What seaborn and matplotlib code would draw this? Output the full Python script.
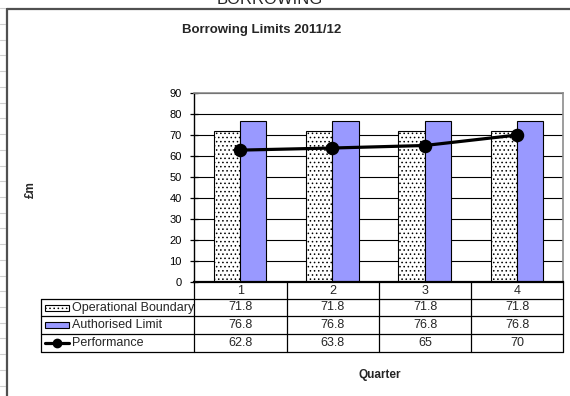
import matplotlib
matplotlib.use("Agg")
import matplotlib.pyplot as plt
from matplotlib.lines import Line2D
from matplotlib.patches import Rectangle
import pandas as pd
import seaborn as sns

# Borrowing limits by quarter (£m)
quarters = ["1", "2", "3", "4"]
operational_boundary = [71.8, 71.8, 71.8, 71.8]
authorised_limit = [76.8, 76.8, 76.8, 76.8]
performance = [62.8, 63.8, 65, 70]
performance_labels = ["62.8", "63.8", "65", "70"]
series_names = ["Operational Boundary", "Authorised Limit", "Performance"]
y_ticks = [0, 10, 20, 30, 40, 50, 60, 70, 80, 90]

sns.set_theme(style="white")
plt.rcParams["font.family"] = ["Liberation Sans", "DejaVu Sans"]
plt.rcParams["hatch.linewidth"] = 0.6
plt.rcParams["hatch.color"] = "black"

W, H = 570, 396
fig = plt.figure(figsize=(W / 100, H / 100), dpi=100)
fig.patch.set_facecolor("white")


def fx(x):
    return x / W


def fy(y):
    return 1 - y / H


def fline(x0, y0, x1, y1, **kw):
    fig.add_artist(Line2D([fx(x0), fx(x1)], [fy(y0), fy(y1)],
                          transform=fig.transFigure, **kw))


# plot area
left, right, top, bottom = 194, 563.3, 93, 282
ax = fig.add_axes([fx(left), fy(bottom), fx(right - left), (bottom - top) / H])

bars = pd.DataFrame({
    "Quarter": quarters * 2,
    "value": operational_boundary + authorised_limit,
    "series": [series_names[0]] * 4 + [series_names[1]] * 4,
})
line = pd.DataFrame({"Quarter": quarters, "value": performance})

sns.barplot(data=bars, x="Quarter", y="value", hue="series",
            hue_order=series_names[:2], palette=["white", "#9999FF"],
            saturation=1, width=0.57, edgecolor="black", linewidth=0.8,
            legend=False, ax=ax, zorder=2)
for patch in ax.containers[0]:
    patch.set_hatch("....")

sns.pointplot(data=line, x="Quarter", y="value", color="black",
              markers="o", markersize=8, linewidth=2.3, errorbar=None,
              ax=ax, zorder=5)

ax.set_xlim(-0.5, 3.5)
ax.set_ylim(0, 90)
ax.set_yticks(y_ticks)
ax.set_xticks([])
ax.set_xlabel("")
ax.set_ylabel("")
ax.yaxis.grid(True, color="black", linewidth=0.8)
ax.set_axisbelow(True)
ax.tick_params(axis="y", direction="inout", length=6, width=0.9,
               color="black", labelsize=8, pad=6, left=True)
for lab in ax.get_yticklabels():
    lab.set_color("black")
ax.spines["left"].set_color("black")
ax.spines["left"].set_linewidth(1)
ax.spines["bottom"].set_color("black")
ax.spines["bottom"].set_linewidth(1.6)
for s in ("top", "right"):
    ax.spines[s].set_color("#8c8c8c")
    ax.spines[s].set_linewidth(1.2)

# data table beneath the axis
rows = [282, 299, 316, 334, 352]
cols = [194, 286.7, 379, 471, 563.3]
tbl_left = 41
lw = 0.9
for y in rows[1:]:
    fline(tbl_left, y, cols[-1], y, color="black", lw=lw)
fline(tbl_left, rows[1], tbl_left, rows[-1], color="black", lw=lw)
for x in cols:
    fline(x, rows[0], x, rows[-1], color="black", lw=lw)

centers = [(cols[i] + cols[i + 1]) / 2 for i in range(4)]
row_mid = [(rows[i] + rows[i + 1]) / 2 for i in range(4)]
for c, q in zip(centers, quarters):
    fig.text(fx(c), fy(row_mid[0]), q, ha="center", va="center", fontsize=9)
table_rows = [
    [f"{v:.1f}" for v in operational_boundary],
    [f"{v:.1f}" for v in authorised_limit],
    performance_labels,
]
for r, vals in enumerate(table_rows):
    for c, v in zip(centers, vals):
        fig.text(fx(c), fy(row_mid[r + 1]), v, ha="center", va="center",
                 fontsize=9)
    fig.text(fx(72), fy(row_mid[r + 1]), series_names[r], ha="left",
             va="center", fontsize=9)

# legend keys in the table
key_x0, key_x1 = 45, 69
for r, (fc, hatch) in enumerate([("white", "...."), ("#9999FF", None)]):
    ym = row_mid[r + 1]
    fig.add_artist(Rectangle((fx(key_x0), fy(ym + 3)), fx(key_x1 - key_x0),
                             6 / H, transform=fig.transFigure, facecolor=fc,
                             edgecolor="black", lw=0.8, hatch=hatch))
ym = row_mid[3]
fline(key_x0, ym, key_x1, ym, color="black", lw=2.3)
fig.add_artist(Line2D([fx(57)], [fy(ym)], transform=fig.transFigure,
                      marker="o", markersize=6, color="black"))

# titles and axis labels
fig.text(fx(262), fy(30), "Borrowing Limits 2011/12", ha="center",
         va="center", fontsize=9.5, fontweight="bold")
fig.text(fx(31), fy(190), "£m", ha="center", va="center", rotation=90,
         fontsize=8.5, fontweight="bold")
fig.text(fx(380), fy(375), "Quarter", ha="center", va="center",
         fontsize=8.5, fontweight="bold")
fig.text(fx(270), fy(4.5), "BORROWING", ha="center", va="baseline",
         fontsize=12)

# sheet cell lines and chart border
for k in range(25):
    y = 8.3 + k * 15.72
    if y > H:
        break
    fline(0, y, 5, y, color="#cfcfcf", lw=0.8)
fline(6.5, 8.5, 6.5, H, color="#505050", lw=1.6)
fline(6.5, 8.5, W, 8.5, color="#505050", lw=1.6)

fig.savefig("out.png", dpi=100, facecolor="white")
